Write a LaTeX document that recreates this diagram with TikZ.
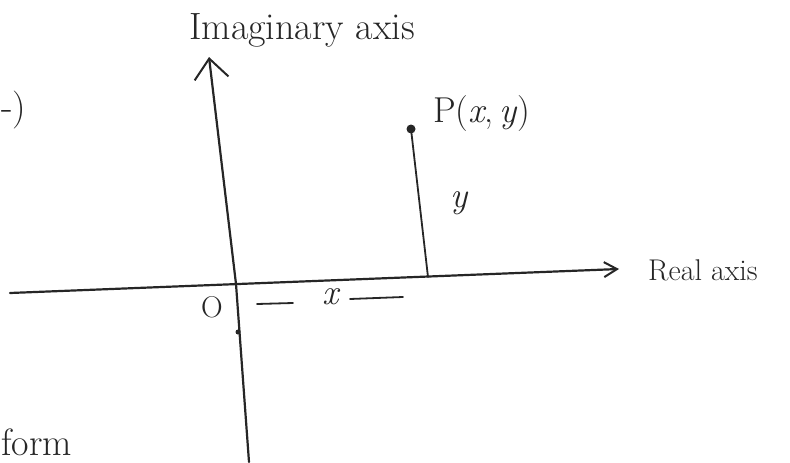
\documentclass[tikz,border=0pt]{standalone}
\usepackage{fontspec}
\usetikzlibrary{arrows.meta}
\begin{document}
\begin{tikzpicture}[x=1pt,y=-1pt,
  axisline/.style={line width=2.2pt,line cap=round,black!85},
  lbl/.style={inner sep=0pt,text=black!85},
  big/.style={font=\fontsize{38}{42}\selectfont},
  mid/.style={font=\fontsize{30}{34}\selectfont}]
\useasboundingbox (0,0) rectangle (790,463);
% axis points
\coordinate (vtop) at (209,57);
\coordinate (origin) at (236,284);
\coordinate (vbot) at (249,462);
\coordinate (hleft) at (10,293);
\coordinate (hright) at (619,269);
\coordinate (foot) at (428,277);
\coordinate (tick) at (238,332);
% axes
\draw[axisline,-{Straight Barb[length=20pt,width=34pt,line width=2pt]}] (vbot) -- (origin) -- (vtop);
\draw[axisline,-{Straight Barb[length=13pt,width=15pt,line width=2pt]}] (hleft) -- (hright);
% point P
\node[circle,fill=black!85,inner sep=0pt,minimum size=9pt] (P) at (411,129) {};
\draw[axisline,line width=1.8pt] (P.center) -- (foot);
\fill[black!85] (tick) circle (2.5pt);
% labels
\node[lbl,big] (imag) at (302,30) {Imaginary axis};
\node[lbl,mid,anchor=west] (real) at (648,270) {Real axis};
\node[lbl,font=\fontsize{36}{40}\selectfont,anchor=west] (Plbl) at (433,114) {P(\textit{x},\,\textit{y})};
\node[lbl,font=\fontsize{36}{40}\selectfont\itshape] (ylbl) at (459,203) {y};
\node[lbl,font=\fontsize{30}{34}\selectfont] (O) at (212,307) {O};
\node[lbl,font=\fontsize{36}{40}\selectfont\itshape] (xlbl) at (331,297) {x};
\draw[axisline,line width=1.8pt] (257,304) -- (293,303);
\draw[axisline,line width=1.8pt] (350,299) -- (403,297);
\node[lbl,big,anchor=west] (form) at (1,442) {form};
\node[lbl,big,anchor=west] (paren) at (1,110) {-)};
\end{tikzpicture}
\end{document}
